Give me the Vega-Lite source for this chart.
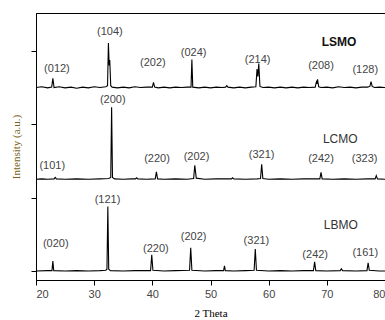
{
  "$schema": "https://vega.github.io/schema/vega-lite/v6.json",
  "width": 349,
  "height": 267,
  "autosize": "none",
  "padding": {"left": 36, "top": 13, "right": 0, "bottom": 40},
  "background": "white",
  "config": {
    "view": {"stroke": "black", "strokeWidth": 1},
    "axis": {"grid": false, "domainColor": "black", "tickColor": "black", "tickSize": 5, "labelFont": "Liberation Sans", "labelFontSize": 11, "labelColor": "#444444"}
  },
  "datasets": {
    "xrd": [
      {"s": "LSMO", "x": 20, "y": 5.0}, {"s": "LSMO", "x": 21, "y": 5.02}, {"s": "LSMO", "x": 22, "y": 4.99}, {"s": "LSMO", "x": 22.7, "y": 5.01}, {"s": "LSMO", "x": 22.9, "y": 5.25}, {"s": "LSMO", "x": 23.1, "y": 5.0},
      {"s": "LSMO", "x": 24, "y": 5.02}, {"s": "LSMO", "x": 25, "y": 4.99}, {"s": "LSMO", "x": 26, "y": 5.01}, {"s": "LSMO", "x": 27, "y": 4.98}, {"s": "LSMO", "x": 28, "y": 5.01}, {"s": "LSMO", "x": 29, "y": 4.99}, {"s": "LSMO", "x": 30, "y": 5.02}, {"s": "LSMO", "x": 31, "y": 5.0}, {"s": "LSMO", "x": 32, "y": 5.02},
      {"s": "LSMO", "x": 32.3, "y": 5.05}, {"s": "LSMO", "x": 32.45, "y": 6.21}, {"s": "LSMO", "x": 32.58, "y": 5.6}, {"s": "LSMO", "x": 32.68, "y": 5.75}, {"s": "LSMO", "x": 32.85, "y": 5.05}, {"s": "LSMO", "x": 33.1, "y": 5.01},
      {"s": "LSMO", "x": 34, "y": 4.99}, {"s": "LSMO", "x": 35, "y": 5.01}, {"s": "LSMO", "x": 36, "y": 4.99}, {"s": "LSMO", "x": 37, "y": 5.02}, {"s": "LSMO", "x": 38, "y": 5.0}, {"s": "LSMO", "x": 39, "y": 5.01},
      {"s": "LSMO", "x": 40.0, "y": 5.01}, {"s": "LSMO", "x": 40.2, "y": 5.14}, {"s": "LSMO", "x": 40.4, "y": 5.01},
      {"s": "LSMO", "x": 41, "y": 4.99}, {"s": "LSMO", "x": 42, "y": 5.01}, {"s": "LSMO", "x": 43, "y": 4.99}, {"s": "LSMO", "x": 44, "y": 5.01}, {"s": "LSMO", "x": 45, "y": 5.0}, {"s": "LSMO", "x": 46, "y": 5.01},
      {"s": "LSMO", "x": 46.65, "y": 5.01}, {"s": "LSMO", "x": 46.8, "y": 5.76}, {"s": "LSMO", "x": 46.95, "y": 5.01},
      {"s": "LSMO", "x": 48, "y": 4.99}, {"s": "LSMO", "x": 49, "y": 5.01}, {"s": "LSMO", "x": 50, "y": 4.99}, {"s": "LSMO", "x": 51, "y": 5.01}, {"s": "LSMO", "x": 52, "y": 5.0},
      {"s": "LSMO", "x": 52.6, "y": 5.01}, {"s": "LSMO", "x": 52.8, "y": 5.05}, {"s": "LSMO", "x": 53.0, "y": 5.01},
      {"s": "LSMO", "x": 54, "y": 4.99}, {"s": "LSMO", "x": 55, "y": 5.01}, {"s": "LSMO", "x": 56, "y": 4.99}, {"s": "LSMO", "x": 57, "y": 5.01},
      {"s": "LSMO", "x": 57.8, "y": 5.02}, {"s": "LSMO", "x": 58.0, "y": 5.5}, {"s": "LSMO", "x": 58.15, "y": 5.3}, {"s": "LSMO", "x": 58.3, "y": 5.65}, {"s": "LSMO", "x": 58.5, "y": 5.03},
      {"s": "LSMO", "x": 59, "y": 5.0}, {"s": "LSMO", "x": 60, "y": 5.01}, {"s": "LSMO", "x": 61, "y": 4.99}, {"s": "LSMO", "x": 62, "y": 5.01}, {"s": "LSMO", "x": 63, "y": 4.99}, {"s": "LSMO", "x": 64, "y": 5.01}, {"s": "LSMO", "x": 65, "y": 4.99}, {"s": "LSMO", "x": 66, "y": 5.01}, {"s": "LSMO", "x": 67, "y": 5.0},
      {"s": "LSMO", "x": 68.0, "y": 5.01}, {"s": "LSMO", "x": 68.2, "y": 5.15}, {"s": "LSMO", "x": 68.3, "y": 5.1}, {"s": "LSMO", "x": 68.4, "y": 5.22}, {"s": "LSMO", "x": 68.6, "y": 5.02},
      {"s": "LSMO", "x": 69, "y": 5.0}, {"s": "LSMO", "x": 70, "y": 5.01}, {"s": "LSMO", "x": 71, "y": 4.99}, {"s": "LSMO", "x": 72, "y": 5.02}, {"s": "LSMO", "x": 73, "y": 5.0}, {"s": "LSMO", "x": 74, "y": 5.01}, {"s": "LSMO", "x": 75, "y": 4.99}, {"s": "LSMO", "x": 76, "y": 5.01}, {"s": "LSMO", "x": 77, "y": 5.01},
      {"s": "LSMO", "x": 77.4, "y": 5.03}, {"s": "LSMO", "x": 77.6, "y": 5.16}, {"s": "LSMO", "x": 77.8, "y": 5.03}, {"s": "LSMO", "x": 78.2, "y": 5.0}, {"s": "LSMO", "x": 79, "y": 5.01}, {"s": "LSMO", "x": 80, "y": 5.0},

      {"s": "LCMO", "x": 20, "y": 2.5}, {"s": "LCMO", "x": 21, "y": 2.51}, {"s": "LCMO", "x": 22, "y": 2.5}, {"s": "LCMO", "x": 23.1, "y": 2.51}, {"s": "LCMO", "x": 23.3, "y": 2.55}, {"s": "LCMO", "x": 23.5, "y": 2.51},
      {"s": "LCMO", "x": 25, "y": 2.5}, {"s": "LCMO", "x": 27, "y": 2.51}, {"s": "LCMO", "x": 29, "y": 2.5}, {"s": "LCMO", "x": 31, "y": 2.51}, {"s": "LCMO", "x": 32.5, "y": 2.52},
      {"s": "LCMO", "x": 32.85, "y": 2.55}, {"s": "LCMO", "x": 33.0, "y": 4.46}, {"s": "LCMO", "x": 33.15, "y": 2.55}, {"s": "LCMO", "x": 33.5, "y": 2.51},
      {"s": "LCMO", "x": 35, "y": 2.5}, {"s": "LCMO", "x": 36.5, "y": 2.51}, {"s": "LCMO", "x": 37.1, "y": 2.51}, {"s": "LCMO", "x": 37.3, "y": 2.54}, {"s": "LCMO", "x": 37.5, "y": 2.51}, {"s": "LCMO", "x": 39, "y": 2.5},
      {"s": "LCMO", "x": 40.5, "y": 2.51}, {"s": "LCMO", "x": 40.7, "y": 2.7}, {"s": "LCMO", "x": 40.9, "y": 2.51},
      {"s": "LCMO", "x": 42, "y": 2.5}, {"s": "LCMO", "x": 44, "y": 2.51}, {"s": "LCMO", "x": 46, "y": 2.5}, {"s": "LCMO", "x": 47.1, "y": 2.52}, {"s": "LCMO", "x": 47.3, "y": 2.88}, {"s": "LCMO", "x": 47.55, "y": 2.53},
      {"s": "LCMO", "x": 49, "y": 2.5}, {"s": "LCMO", "x": 51, "y": 2.51}, {"s": "LCMO", "x": 53.6, "y": 2.51}, {"s": "LCMO", "x": 53.8, "y": 2.54}, {"s": "LCMO", "x": 54.0, "y": 2.51}, {"s": "LCMO", "x": 56, "y": 2.5}, {"s": "LCMO", "x": 58, "y": 2.51},
      {"s": "LCMO", "x": 58.6, "y": 2.52}, {"s": "LCMO", "x": 58.8, "y": 2.91}, {"s": "LCMO", "x": 59.0, "y": 2.52},
      {"s": "LCMO", "x": 60, "y": 2.5}, {"s": "LCMO", "x": 62, "y": 2.51}, {"s": "LCMO", "x": 64, "y": 2.5}, {"s": "LCMO", "x": 66, "y": 2.51}, {"s": "LCMO", "x": 68.8, "y": 2.51}, {"s": "LCMO", "x": 69.0, "y": 2.69}, {"s": "LCMO", "x": 69.2, "y": 2.51},
      {"s": "LCMO", "x": 71, "y": 2.5}, {"s": "LCMO", "x": 73, "y": 2.51}, {"s": "LCMO", "x": 75, "y": 2.5}, {"s": "LCMO", "x": 77, "y": 2.51}, {"s": "LCMO", "x": 78.3, "y": 2.51}, {"s": "LCMO", "x": 78.5, "y": 2.6}, {"s": "LCMO", "x": 78.7, "y": 2.51}, {"s": "LCMO", "x": 80, "y": 2.5},

      {"s": "LBMO", "x": 20, "y": 0.0}, {"s": "LBMO", "x": 22, "y": 0.01}, {"s": "LBMO", "x": 22.75, "y": 0.01}, {"s": "LBMO", "x": 22.9, "y": 0.27}, {"s": "LBMO", "x": 23.05, "y": 0.01},
      {"s": "LBMO", "x": 25, "y": 0.0}, {"s": "LBMO", "x": 27, "y": 0.01}, {"s": "LBMO", "x": 29, "y": 0.0}, {"s": "LBMO", "x": 31, "y": 0.01}, {"s": "LBMO", "x": 32.0, "y": 0.02},
      {"s": "LBMO", "x": 32.2, "y": 0.05}, {"s": "LBMO", "x": 32.35, "y": 1.76}, {"s": "LBMO", "x": 32.5, "y": 0.05}, {"s": "LBMO", "x": 32.8, "y": 0.01},
      {"s": "LBMO", "x": 35, "y": 0.0}, {"s": "LBMO", "x": 37, "y": 0.01}, {"s": "LBMO", "x": 39.7, "y": 0.01}, {"s": "LBMO", "x": 39.9, "y": 0.44}, {"s": "LBMO", "x": 40.1, "y": 0.02},
      {"s": "LBMO", "x": 42, "y": 0.0}, {"s": "LBMO", "x": 44, "y": 0.01}, {"s": "LBMO", "x": 46.4, "y": 0.02}, {"s": "LBMO", "x": 46.6, "y": 0.63}, {"s": "LBMO", "x": 46.8, "y": 0.02},
      {"s": "LBMO", "x": 49, "y": 0.0}, {"s": "LBMO", "x": 51, "y": 0.01}, {"s": "LBMO", "x": 52.25, "y": 0.01}, {"s": "LBMO", "x": 52.4, "y": 0.14}, {"s": "LBMO", "x": 52.55, "y": 0.01},
      {"s": "LBMO", "x": 54, "y": 0.0}, {"s": "LBMO", "x": 56, "y": 0.01}, {"s": "LBMO", "x": 57.5, "y": 0.02}, {"s": "LBMO", "x": 57.7, "y": 0.6}, {"s": "LBMO", "x": 57.9, "y": 0.02},
      {"s": "LBMO", "x": 60, "y": 0.0}, {"s": "LBMO", "x": 62, "y": 0.01}, {"s": "LBMO", "x": 64, "y": 0.0}, {"s": "LBMO", "x": 66, "y": 0.01}, {"s": "LBMO", "x": 67.7, "y": 0.01}, {"s": "LBMO", "x": 67.9, "y": 0.25}, {"s": "LBMO", "x": 68.1, "y": 0.01},
      {"s": "LBMO", "x": 70, "y": 0.0}, {"s": "LBMO", "x": 72.3, "y": 0.01}, {"s": "LBMO", "x": 72.5, "y": 0.06}, {"s": "LBMO", "x": 72.7, "y": 0.01}, {"s": "LBMO", "x": 75, "y": 0.0},
      {"s": "LBMO", "x": 76.9, "y": 0.01}, {"s": "LBMO", "x": 77.1, "y": 0.22}, {"s": "LBMO", "x": 77.3, "y": 0.02}, {"s": "LBMO", "x": 79, "y": 0.0}, {"s": "LBMO", "x": 80, "y": 0.0}
    ],
    "hkl": [
      {"t": "(012)", "x": 23.6, "y": 5.5}, {"t": "(104)", "x": 32.7, "y": 6.51}, {"t": "(202)", "x": 40.1, "y": 5.67}, {"t": "(024)", "x": 47.1, "y": 5.94}, {"t": "(214)", "x": 58.1, "y": 5.75}, {"t": "(208)", "x": 69.0, "y": 5.59}, {"t": "(128)", "x": 76.6, "y": 5.48},
      {"t": "(200)", "x": 33.2, "y": 4.66}, {"t": "(101)", "x": 22.8, "y": 2.86}, {"t": "(220)", "x": 40.8, "y": 3.05}, {"t": "(202)", "x": 47.6, "y": 3.11}, {"t": "(321)", "x": 58.8, "y": 3.16}, {"t": "(242)", "x": 69.0, "y": 3.05}, {"t": "(323)", "x": 76.5, "y": 3.05},
      {"t": "(121)", "x": 32.3, "y": 1.93}, {"t": "(020)", "x": 23.4, "y": 0.74}, {"t": "(220)", "x": 40.6, "y": 0.6}, {"t": "(202)", "x": 47.1, "y": 0.93}, {"t": "(321)", "x": 57.9, "y": 0.82}, {"t": "(242)", "x": 68.0, "y": 0.44}, {"t": "(161)", "x": 76.6, "y": 0.49}
    ],
    "boldname": [
      {"t": "LSMO", "x": 72.1, "y": 6.24}
    ],
    "names": [
      {"t": "LCMO", "x": 72.3, "y": 3.6},
      {"t": "LBMO", "x": 72.4, "y": 1.25}
    ]
  },
  "layer": [
    {
      "data": {"name": "xrd"},
      "mark": {"type": "line", "color": "black", "strokeWidth": 1.1, "clip": true},
      "encoding": {
        "x": {"field": "x", "type": "quantitative", "scale": {"domain": [20, 80], "nice": false, "zero": false},
          "axis": {"values": [20, 30, 40, 50, 60, 70, 80], "title": "2 Theta", "titleFont": "Liberation Serif", "titleFontSize": 11, "titleFontWeight": "normal", "titleColor": "black", "titlePadding": 8, "labelPadding": 3}},
        "y": {"field": "y", "type": "quantitative", "scale": {"domain": [-0.245, 7.03], "nice": false, "zero": false},
          "axis": {"values": [0, 1, 2, 3, 4, 5, 6, 7], "labels": false, "title": "Intensity (a.u.)", "titleFont": "Liberation Serif", "titleFontSize": 11, "titleFontWeight": "normal", "titleColor": "#7a6320", "titlePadding": 9}},
        "detail": {"field": "s"}
      }
    },
    {
      "data": {"name": "hkl"},
      "mark": {"type": "text", "font": "Liberation Sans", "fontSize": 11, "color": "#444444", "baseline": "middle", "align": "center"},
      "encoding": {
        "x": {"field": "x", "type": "quantitative"},
        "y": {"field": "y", "type": "quantitative"},
        "text": {"field": "t"}
      }
    },
    {
      "data": {"name": "boldname"},
      "mark": {"type": "text", "font": "Liberation Sans", "fontSize": 12, "fontWeight": "bold", "color": "#111111", "baseline": "middle", "align": "center"},
      "encoding": {
        "x": {"field": "x", "type": "quantitative"},
        "y": {"field": "y", "type": "quantitative"},
        "text": {"field": "t"}
      }
    },
    {
      "data": {"name": "names"},
      "mark": {"type": "text", "font": "Liberation Sans", "fontSize": 12, "color": "#333333", "baseline": "middle", "align": "center"},
      "encoding": {
        "x": {"field": "x", "type": "quantitative"},
        "y": {"field": "y", "type": "quantitative"},
        "text": {"field": "t"}
      }
    }
  ]
}
